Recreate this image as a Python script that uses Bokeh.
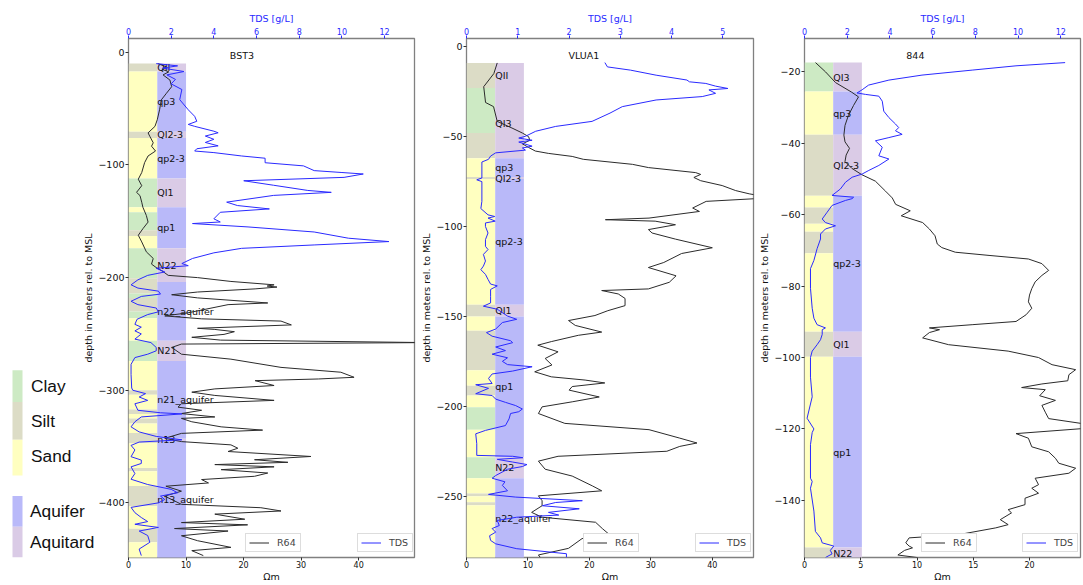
import math
from bokeh.plotting import figure
from bokeh.models import Range1d, LinearAxis, FixedTicker, Legend, LegendItem, Label
from bokeh.layouts import row
from bokeh.embed import file_html
from bokeh.resources import INLINE
from bokeh.core.properties import value

# ---------------- colours ----------------
LITH_COLORS = {"clay": "#cdeac4", "silt": "#dcdcc6", "sand": "#ffffc0"}
UNIT_COLORS = {"aquifer": "#b9b9f9", "aquitard": "#dacbe6"}
BLUE = "#2a2aff"

# ---------------- BST3 ----------------
bst3_lith_bounds = [-10, -17, -70.6, -76, -112, -137.5, -142, -158, -163, -174, -200.5, -214, -218, -230, -236,
                    -256, -274, -300, -304, -317, -321, -325, -329.5, -338, -347, -369, -372, -385, -403, -423,
                    -435, -449]
bst3_lith_types = ["silt", "sand", "silt", "sand", "clay", "sand", "clay", "silt", "sand", "clay", "silt", "clay",
                   "silt", "clay", "sand", "clay", "sand", "silt", "sand", "silt", "sand", "silt", "sand", "silt",
                   "sand", "silt", "sand", "silt", "sand", "silt", "sand"]
bst3_unit_bounds = [-10, -17, -70.6, -76, -112, -137.5, -174, -204, -256, -274, -343, -345, -449]
bst3_unit_names = ["QII", "qp3", "QI2-3", "qp2-3", "QI1", "qp1", "N22", "n22_aquifer", "N21", "n21_aquifer",
                   "n13", "n13_aquifer"]
bst3_unit_kinds = ["aquitard", "aquifer", "aquitard", "aquifer", "aquitard", "aquifer", "aquitard", "aquifer",
                   "aquitard", "aquifer", "aquitard", "aquifer"]
bst3_r64_depth = [-10, -12.9, -15, -17.3, -20, -24.6, -30.5, -36.3, -42.2, -51, -59.8, -65.7, -71.5, -74.5, -80.3,
                  -83.3, -87.6, -92, -97.9, -106.7, -112.6, -118.4, -124.3, -127.2, -133.1, -137.5, -144.8, -150.7,
                  -156.6, -162.4, -168.3, -177.1, -183, -188, -191, -194.6, -198, -200, -203.4, -206.4, -207.5,
                  -208.4, -210, -212.8, -215.2, -218, -222.5, -224, -231.3, -234, -236.6, -238.6, -242, -245,
                  -246, -248, -250.4, -253, -255.5, -257.7, -259, -262, -268, -272.4, -279.7, -284, -288.5, -290,
                  -291.5, -295.8, -298.8, -301.7, -304.6, -309, -312, -315, -317.8, -320.7, -323.7, -325, -328,
                  -332.5, -335.4, -338.3, -342.7, -345.6, -348.5, -351.5, -354.4, -358.8, -361.7, -364, -366,
                  -368, -370.5, -373.5, -376.4, -379.3, -382.3, -385.2, -389.6, -394, -401.3, -404.3, -407.2,
                  -410, -414.5, -417.5, -419.5, -422.8, -425, -429.2, -433.6, -439.5, -442.4, -446.8]
bst3_r64_value = [5.1, 6.6, 5.8, 7.0, 6.0, 7.2, 7.5, 6.6, 5.7, 5.4, 5.0, 4.6, 3.4, 3.7, 4.3,
                  4.0, 4.7, 3.4, 2.8, 2.3, 1.7, 2.3, 1.4, 2.0, 2.3, 2.5, 3.1, 3.4,
                  2.5, 1.7, 2.3, 3.1, 4.3, 4.0, 4.8, 6.0, 6.9, 12, 17.8, 25.3, 24.1,
                  25.8, 22, 12, 7.5, 12, 24.2, 17.3, 10.3, 6.3, 12.7, 26.5, 28.3, 12,
                  15, 18.4, 16.6, 11, 16, 52, 9.2, 7.5, 9.2, 17.8, 26.5, 36.9, 39.2, 33,
                  22, 25.3, 15, 11, 15, 25.3, 9.2, 8.6, 12.7, 9.2, 15, 9.2, 11,
                  16.1, 23.3, 9.2, 6.3, 9.2, 17.8, 19, 17.3, 31.7, 21.9, 27.7, 15,
                  25.3, 16.1, 24.2, 21.9, 12.7, 13.9, 6.5, 9.2, 6.3, 9.2, 23, 26.5,
                  15, 20.2, 9.2, 20.7, 8, 17.3, 9.2, 12, 17.8, 11, 13]
bst3_tds_depth = [-10, -12, -14, -17, -20, -24, -28, -33, -42, -51, -56.8, -61.2, -64, -65.7, -70, -71.4, -74.3,
                  -77.2, -80, -83, -85.6, -87.6, -89, -92, -94, -98, -100.8, -105, -106.7, -108, -111, -114, -118,
                  -122.6, -124.3, -127, -133, -136, -139, -142, -147.8, -150.6, -152, -155, -159.5, -165, -168,
                  -171, -174, -178, -183, -187.5, -189.4, -191.7, -195, -198, -202, -206.4, -209.3, -212, -214.6,
                  -216.7, -221, -224, -227, -230.4, -232.8, -237, -241.5, -244, -247.3, -250, -254.6, -257.7,
                  -262, -265, -268, -271, -277, -286, -298, -300, -303, -306, -309, -312, -317.8, -320, -321,
                  -323.7, -328, -332.5, -337, -341, -344, -346, -349, -353, -359, -362, -365, -368, -374, -379,
                  -383.7, -388, -391, -394, -397, -400, -404, -408.7, -413, -416.6, -419, -421.8, -425, -429,
                  -435, -441, -446.8]
bst3_tds_value = [1.3, 2.3, 1.6, 2.6, 1.8, 2.2, 2.0, 2.5, 2.4, 2.8, 3.1, 3.2, 2.8, 3.1, 4.0, 4.2, 3.6,
                  4.0, 3.6, 4.2, 3.2, 3.1, 4.0, 5.3, 6.4, 6.4, 8.2, 8.7, 10.0, 11.0, 10.1, 5.4, 6.8,
                  8.4, 9.5, 6.8, 4.6, 5.1, 6.6, 4.3, 4.0, 4.3, 3.0, 5.6, 8.7, 10.3, 12.2,
                  8.7, 5.3, 4.0, 3.0, 2.5, 2.8, 1.3, 1.7, 0.9, 0.44, 0.12, 0.44, 1.4, 1.5,
                  0.6, 0.12, 0.44, 1.3, 1.4, 0.9, 0.4, 0.3, 0.6, 0.3, 0.6, 0.3, 1.05,
                  1.3, 1.3, 0.9, 0.3, 0.12, 0.12, 0.15, 0.2, 0.8, 0.5, 0.9, 0.3, 0.44, 1.5, 2.5,
                  0.6, 0.3, 0.12, 0.5, 1.3, 2.5, 0.5, 0.12, 0.3, 0.12, 0.6, 0.6, 0.12, 0.3, 0.12,
                  0.9, 2.0, 2.3, 1.5, 1.7, 1.4, 0.12, 0.3, 0.6, 0.9, 0.3, 1.4, 0.5, 0.9,
                  1.0, 0.5, 0.6]

# ---------------- VLUA1 ----------------
vlua1_lith_bounds = [-9, -23, -48, -62, -72.5, -73.5, -143.5, -150, -158, -180, -188.5, -194, -200.5, -213, -228.3,
                     -240, -248.5, -250, -253.3, -255, -285]
vlua1_lith_types = ["silt", "clay", "silt", "sand", "silt", "sand", "silt", "sand", "silt", "sand", "silt", "sand",
                    "clay", "sand", "clay", "sand", "silt", "sand", "silt", "sand"]
vlua1_unit_bounds = [-9, -23, -62, -72.5, -73.5, -143.5, -150, -228.3, -240, -285]
vlua1_unit_names = ["QII", "QI3", "qp3", "QI2-3", "qp2-3", "QI1", "qp1", "N22", "n22_aquifer"]
vlua1_unit_kinds = ["aquitard", "aquitard", "aquifer", "aquitard", "aquifer", "aquitard", "aquifer", "aquitard",
                    "aquifer"]
vlua1_r64_depth = [-9, -14.9, -22.2, -31, -33.3, -41.5, -45.2, -48, -50, -52, -54, -56, -58, -59.3, -61, -62.6,
                   -65.4, -67.2, -70, -71, -72.7, -74.5, -77.2, -80, -81.8, -83, -84.5, -86, -89.7, -91.6, -95.3,
                   -96.2, -97, -99, -101.7, -103.6, -107, -111.8, -115, -120, -122.8, -127.4, -131, -134.7,
                   -135.6, -137.5, -140, -144, -146.8, -149.5, -152.3, -155, -158.7, -160.5, -164, -166, -169.7,
                   -173.4, -177, -180.8, -183.6, -185.4, -187, -189, -191, -194.8, -197.5, -200.3, -204, -209.5,
                   -213, -217.7, -220.4, -222.3, -225, -227.8, -230.5, -235, -238.8, -244.3, -247, -249.8,
                   -252.5, -255.3, -259, -261.7, -264.5, -268, -270.9, -273.6, -279, -282.7, -284]
vlua1_r64_value = [5.0, 4.45, 2.8, 3.1, 4.4, 5.0, 7.4, 9.1, 10.1, 10.3, 9.1, 10.1, 11.2, 13.3, 17.2, 19.0,
                   27, 29.6, 37.3, 38.1, 37.0, 38.1, 41.6, 43.8, 46, 48, 47, 39, 36.8, 37.9, 29.7,
                   22.6, 30.7, 34, 29.6, 30.2, 34, 40, 35, 32.1, 29.6, 34.1, 33, 29.6,
                   22, 24.7, 25.8, 25.8, 23, 20.9, 16.6, 17.7, 22, 18.2, 13.8, 11.6, 14.9,
                   12.8, 13.9, 11.1, 13.8, 19.3, 22.5, 17.2, 16.7, 21.6, 17.2, 12.3, 11.7, 16,
                   29.7, 34.7, 37.5, 34.7, 32.6, 14.9, 11.7, 12.8, 17.2, 20.5, 22, 11.7,
                   12.3, 12.3, 10.6, 12.3, 21, 22.1, 23.1, 18.8, 16.6, 11.7, 12]
vlua1_tds_depth = [-8.8, -11.2, -13, -15.8, -18.5, -19.5, -20.4, -21.9, -23.2, -24, -25.9, -27.7, -29.6, -33.3,
                   -36.9, -41.5, -44.3, -47, -49.8, -50.8, -52, -53, -55.3, -56.3, -57.5, -59, -60.8, -62.6,
                   -64.1, -66.3, -73, -74, -75, -86, -90, -93.5, -94.4, -95.3, -97, -98, -100, -103.6, -107.3,
                   -111, -112.8, -115.5, -119.2, -122, -124, -126.6, -129.4, -132, -133, -135, -138.8, -142.5,
                   -144.3, -146, -149.8, -151.6, -153.4, -157, -159, -161, -163.5, -164.6, -167, -169, -171,
                   -173, -175, -176.8, -178, -180.4, -182, -184.5, -187.3, -188, -190, -193, -194, -196, -197.8,
                   -199.6, -201.5, -203, -204, -207, -210.7, -213.4, -215.3, -220.8, -227.3, -227.8, -228.6,
                   -229.5, -231, -232.4, -233.5, -235, -238.5, -240, -242, -244, -247, -249, -250.5, -252.5,
                   -253.5, -255.3, -257, -259, -260.5, -261.7, -263.5, -266.3, -268, -270, -272, -274.6, -276.5,
                   -279.2, -282, -284]
vlua1_tds_value = [2.7, 2.75, 3.2, 3.7, 4.3, 4.35, 4.67, 4.86, 5.1, 4.73, 4.86, 4.6, 3.7, 3.04,
                   2.8, 2.45, 1.74, 1.35, 1.15, 1.02, 1.28, 1.02, 1.28, 1.09, 1.15, 0.57, 0.47, 0.43,
                   0.3, 0.3, 0.3, 0.2, 0.3, 0.3, 0.28, 0.42, 0.55, 0.42, 0.56, 0.37, 0.37, 0.42, 0.37,
                   0.37, 0.42, 0.33, 0.37, 0.33, 0.28, 0.37, 0.42, 0.47, 0.6, 0.47, 0.47, 0.47,
                   0.33, 0.6, 0.8, 0.98, 0.7, 0.57, 0.39, 0.5, 0.86, 0.9, 0.57, 0.76, 0.5,
                   0.8, 0.7, 0.8, 1.28, 0.9, 0.5, 0.43, 0.5, 0.18, 0.43, 0.18, 0.5, 0.57, 0.76,
                   0.96, 1.09, 1.02, 0.86, 0.83, 0.76, 0.37, 0.18, 0.2, 0.2, 0.9, 1.1,
                   0.6, 0.9, 1.18, 1.09, 0.8, 0.57, 0.5, 0.75, 0.7, 0.8, 0.43, 0.96, 2.26,
                   1.74, 1.48, 2.2, 1.6, 1.8, 0.98, 0.6, 0.64, 0.5, 0.57, 0.45, 0.47, 0.57,
                   0.98, 1.95, 1.95]

# ---------------- 844 ----------------
w844_lith_bounds = [-17.4, -25.5, -37.6, -54.7, -58, -62.5, -64.8, -70.8, -92.8, -99.8, -153.2, -156.5]
w844_lith_types = ["clay", "sand", "silt", "sand", "silt", "sand", "silt", "sand", "silt", "sand", "silt"]
w844_unit_bounds = [-17.4, -25.5, -37.6, -54.7, -92.8, -99.8, -153.2, -156.5]
w844_unit_names = ["QI3", "qp3", "QI2-3", "qp2-3", "QI1", "qp1", "N22"]
w844_unit_kinds = ["aquitard", "aquifer", "aquitard", "aquifer", "aquitard", "aquifer", "aquitard"]
w844_r64_depth = [-17.4, -20, -23, -25.7, -27, -29.4, -32.2, -35, -37.7, -39.6, -41.4, -43.3, -45.1, -47, -48.8,
                  -50.6, -53.4, -55.3, -57.1, -58.9, -60.3, -62.2, -64, -65.9, -68.2, -69.2, -70.5, -71.4, -72.4,
                  -73.7, -75.6, -77, -78.8, -80.7, -82.5, -84.4, -86.2, -88, -89.9, -90.8, -91.7, -92.2, -93,
                  -94.5, -96.4, -98.2, -100, -102, -103.4, -104.8, -106.5, -107.4, -108.4, -109, -110.7, -112,
                  -113.4, -115.3, -117.1, -118.5, -119.9, -121.3, -122.6, -125, -126.4, -128.2, -129.6, -131,
                  -132.4, -133.8, -135.6, -136.6, -138, -139.4, -141.2, -142.6, -143.5, -145.4, -146.8, -147.7,
                  -149.6, -150.5, -151.9, -152.8, -153.3, -154, -155.3, -156]
w844_r64_value = [0.98, 1.87, 2.76, 4.2, 4.8, 4.36, 3.9, 3.6, 3.5, 3.6, 4.0, 3.7, 3.6, 4.2, 5.1,
                  6.3, 7.2, 7.8, 8.1, 9.4, 8.6, 10.5, 11.1, 11.6, 11.8, 12.2, 13.4, 16.4, 19.9,
                  21.1, 21.7, 21.1, 20.5, 20.2, 20.0, 19.9, 20.2, 19.7, 18.8, 14.9, 11.1, 12.0, 11.1,
                  10.5, 12.8, 18.1, 20.8, 22.0, 24.1, 23.5, 23.4, 21.1, 19.3, 21.4, 20.9, 22.3,
                  21.1, 21.4, 21.7, 24.7, 24.7, 18.8, 19.9, 20.2, 21.7, 22.3, 22.6, 24.1,
                  23.5, 20.5, 20.8, 20.2, 20.8, 19.6, 19.6, 18.1, 18.4, 17.4, 18.1, 17.0,
                  13.7, 9.3, 9.0, 9.3, 9.6, 8.9, 8.3, 10]
w844_tds_depth = [-17.4, -18.3, -19.5, -20.9, -22.3, -23.7, -25, -25.9, -26.3, -26.8, -28.2, -31, -32.8, -34.6,
                  -35.6, -36.5, -37.5, -38.4, -39.3, -41.1, -43.5, -44.4, -46.2, -47.6, -48.6, -49.5, -50.9,
                  -52.8, -54.6, -55.1, -55.5, -56, -57.4, -59.3, -61.2, -62.2, -63.1, -64, -65.4, -66.8, -69.5,
                  -72.8, -75.1, -80.6, -86.2, -89, -90.8, -91.7, -92.2, -93.5, -95, -96.4, -98.2, -100, -105.5,
                  -111, -117, -120, -121, -124.4, -133.8, -134.7, -136.6, -143, -148.7, -150.5, -151.9, -152.8,
                  -154, -155, -156]
w844_tds_value = [12.2, 9.9, 7.85, 5.5, 3.95, 3.0, 2.7, 2.46, 2.85, 3.48, 3.64, 3.71, 3.95, 4.26,
                  4.41, 4.26, 4.57, 3.95, 3.32, 3.64, 3.48, 3.95, 3.48, 3.01, 2.7, 2.23, 1.92,
                  1.68, 1.29, 2.3, 2.23, 1.92, 1.29, 1.06, 0.83, 0.98, 1.45, 0.98, 0.75, 0.75, 0.59,
                  0.44, 0.28, 0.28, 0.36, 0.44, 0.59, 0.98, 0.83, 0.83, 0.75, 0.59, 0.36, 0.28, 0.28,
                  0.36, 0.12, 0.44, 0.36, 0.28, 0.28, 0.36, 0.28, 0.44, 0.51, 0.75, 0.83, 1.37,
                  1.21, 1.29, 0.98]

# ---------------- left colour key (labels and colours) ----------------
key_names = ["Clay", "Silt", "Sand", "Aquifer", "Aquitard"]
key_colors = [LITH_COLORS["clay"], LITH_COLORS["silt"], LITH_COLORS["sand"], UNIT_COLORS["aquifer"],
              UNIT_COLORS["aquitard"]]

H = 584
TOP = 38
FONT = "DejaVu Sans"
YLABEL = "depth in meters rel. to MSL"
BST3_Y = (-448.5, 12.3)


def minus(v):
    return ("\u2212" + str(abs(v))) if v < 0 else str(v)


def panel(title, width, mbl, xmax, tdsmax, yr, yticks, xticks, tticks, col_w, title_x, title_y,
          lith_b, lith_t, unit_b, unit_n, unit_k, r_d, r_v, t_d, t_v, ylabel=True):
    p = figure(width=width, height=H, x_range=Range1d(0, xmax), y_range=Range1d(*yr),
               output_backend="svg", toolbar_location=None,
               min_border_left=mbl, min_border_right=2, min_border_top=TOP, min_border_bottom=20)
    p.extra_x_ranges = {"tds": Range1d(0, tdsmax)}
    p.grid.visible = False
    p.outline_line_color = "#808080"
    p.outline_line_width = 1.3
    p.background_fill_color = "white"
    p.border_fill_color = "white"

    p.quad(left=0, right=col_w, top=lith_b[:-1], bottom=lith_b[1:],
           fill_color=[LITH_COLORS[t] for t in lith_t], line_color=None)
    p.quad(left=col_w, right=2 * col_w, top=unit_b[:-1], bottom=unit_b[1:],
           fill_color=[UNIT_COLORS[k] for k in unit_k], line_color=None)
    mids = [(a + b) / 2 for a, b in zip(unit_b[:-1], unit_b[1:])]
    p.text(x=[col_w] * len(unit_n), y=mids, text=unit_n, text_baseline="middle", text_align="left",
           text_font=value(FONT), text_font_size="9.5px", text_color="#111111")

    r1 = p.line(r_v, r_d, line_color="#2b2b2b", line_width=1)
    r2 = p.line(t_v, t_d, x_range_name="tds", line_color=BLUE, line_width=1)

    p.add_layout(Label(x=title_x, y=title_y, text=title, text_baseline="middle", text_align="left",
                       text_font=FONT, text_font_size="9.5px", text_color="#111111"))

    ya = p.yaxis[0]
    ya.ticker = FixedTicker(ticks=yticks)
    ya.major_label_overrides = {t: minus(t) for t in yticks}
    if ylabel:
        ya.axis_label = YLABEL
    xa = p.xaxis[0]
    xa.ticker = FixedTicker(ticks=xticks)
    xa.axis_label = "\u03a9m"
    ta = LinearAxis(x_range_name="tds", axis_label="TDS [g/L]", ticker=FixedTicker(ticks=tticks))
    p.add_layout(ta, "above")
    for ax in (ya, xa, ta):
        ax.axis_line_color = None
        ax.minor_tick_line_color = None
        ax.major_tick_in = 0
        ax.major_tick_out = 3
        ax.major_label_standoff = 1
        ax.axis_label_standoff = 1
        ax.major_label_text_font = FONT
        ax.axis_label_text_font = FONT
        ax.axis_label_text_font_style = "normal"
        ax.axis_label_text_font_size = "9.5px"
        ax.axis_label_text_color = "#111111"
        ax.major_label_text_color = "#111111"
        ax.major_tick_line_color = "#333333"
    xa.major_label_standoff = 0
    xa.axis_label_standoff = 0
    ya.major_label_text_font_size = "9.5px"
    xa.major_label_text_font_size = "8px"
    ta.major_label_text_font_size = "8px"
    ta.major_label_text_color = BLUE
    ta.axis_label_text_color = BLUE
    ta.major_tick_line_color = BLUE

    fw = width - mbl - 2
    for item, loc in ((LegendItem(label="R64", renderers=[r1]), (117, 5)),
                      (LegendItem(label="TDS", renderers=[r2]), (fw - 58, 5))):
        lg = Legend(items=[item], location=loc)
        lg.label_text_font = FONT
        lg.label_text_font_size = "9.5px"
        lg.glyph_width = 20
        lg.glyph_height = 11
        lg.label_height = 11
        lg.label_standoff = 8
        lg.padding = 3
        lg.spacing = 0
        lg.margin = 0
        lg.border_line_color = "#bbbbbb"
        lg.background_fill_alpha = 1
        p.add_layout(lg)
    return p


# key panel on the far left; it shares the BST3 depth scale (frames are aligned in the row)
KW = 95
key = figure(width=KW, height=H, x_range=Range1d(0, KW), y_range=Range1d(*BST3_Y),
             output_backend="svg", toolbar_location=None,
             min_border_left=0, min_border_right=0, min_border_top=TOP, min_border_bottom=20)
key.axis.visible = False
key.grid.visible = False
key.outline_line_color = None
key.background_fill_color = "white"
key.border_fill_color = "white"
key_top = [-282.3, -310.5, -343.9, -394.0, -421.3]
key_bot = [-310.5, -343.9, -375.6, -421.3, -448.5]
key.quad(left=12, right=22, top=key_top, bottom=key_bot, fill_color=key_colors, line_color=None)
key.text(x=[30.5, 30.5, 30.5, 29.5, 29.5], y=[-296.4, -327.2, -358.8, -407.2, -434.5], text=key_names,
         text_baseline="middle", text_align="left", text_font=value("Liberation Sans"),
         text_font_size="17.3px", text_color="#111111")
key.text(x=[88], y=[(BST3_Y[0] + BST3_Y[1]) / 2], text=[YLABEL], angle=math.pi / 2, text_baseline="middle",
         text_align="center", text_font=value(FONT), text_font_size="9.5px", text_color="#111111")

p1 = panel("BST3", 321, 32, 49.7, 13.4, BST3_Y, [0, -100, -200, -300, -400], [0, 10, 20, 30, 40],
           [0, 2, 4, 6, 8, 10, 12], 5.0, 17.6, -2.6,
           bst3_lith_bounds, bst3_lith_types, bst3_unit_bounds, bst3_unit_names, bst3_unit_kinds,
           bst3_r64_depth, bst3_r64_value, bst3_tds_depth, bst3_tds_value, ylabel=False)

p2 = panel("VLUA1", 339, 50, 46.7, 5.6, (-284.1, 4.6), [0, -50, -100, -150, -200, -250], [0, 10, 20, 30, 40],
           [0, 1, 2, 3, 4, 5], 4.67, 16.6, -4.8,
           vlua1_lith_bounds, vlua1_lith_types, vlua1_unit_bounds, vlua1_unit_names, vlua1_unit_kinds,
           vlua1_r64_depth, vlua1_r64_value, vlua1_tds_depth, vlua1_tds_value)

p3 = panel("844", 327, 49, 24.53, 12.92, (-156.0, -10.65), [-20, -40, -60, -80, -100, -120, -140],
           [0, 5, 10, 15, 20], [0, 2, 4, 6, 8, 10, 12], 2.55, 9.05, -15.4,
           w844_lith_bounds, w844_lith_types, w844_unit_bounds, w844_unit_names, w844_unit_kinds,
           w844_r64_depth, w844_r64_value, w844_tds_depth, w844_tds_value)

layout = row(key, p1, p2, p3, spacing=0)
open("out.html", "w").write(file_html(layout, INLINE))
